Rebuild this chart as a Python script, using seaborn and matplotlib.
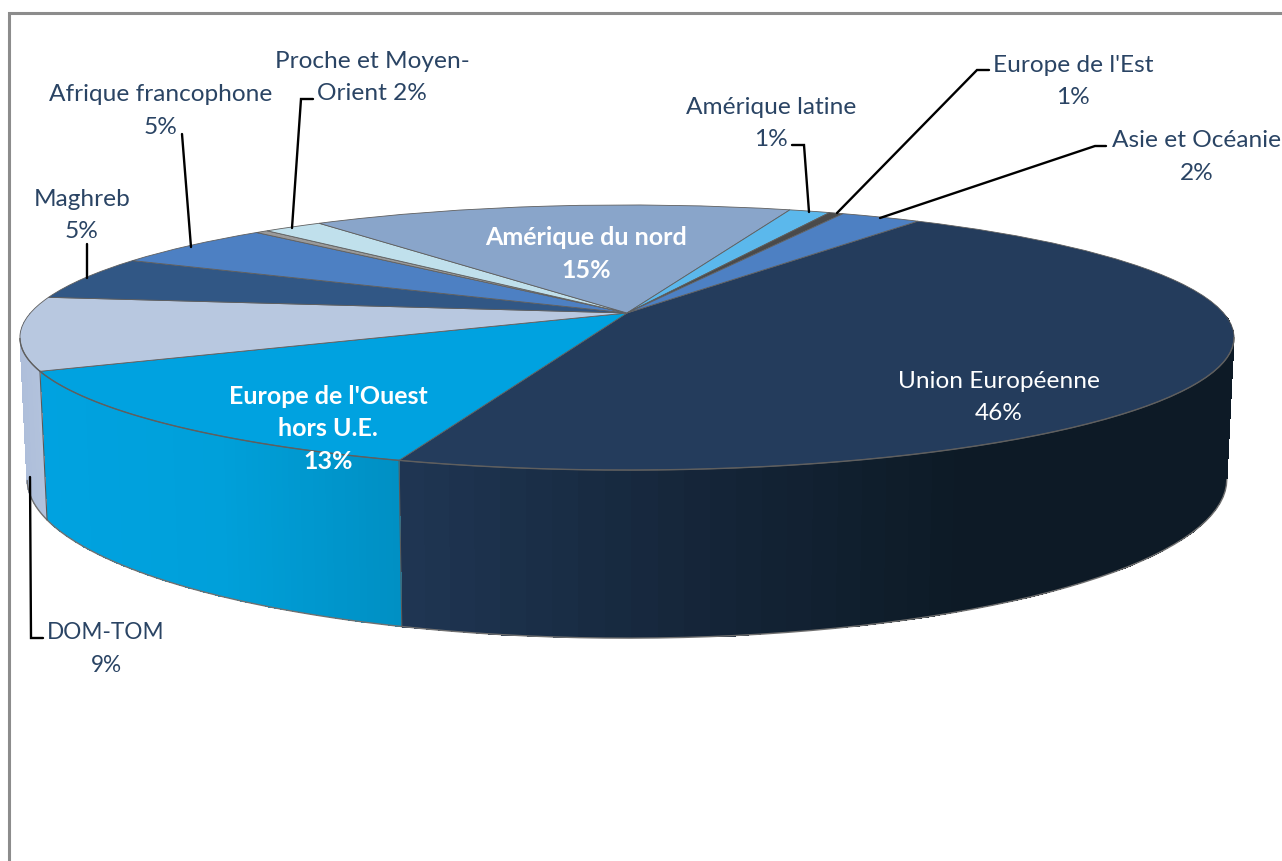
import numpy as np
import matplotlib
matplotlib.use('Agg')
import matplotlib.pyplot as plt
from matplotlib.colors import Normalize
from matplotlib.transforms import Transform
import seaborn as sns

# parts clockwise, starting with Union Européenne (unnamed grey sliver included)
regions = ['Union Européenne', "Europe de l'Ouest hors U.E.", 'DOM-TOM', 'Maghreb',
           'Afrique francophone', '', 'Proche et Moyen-Orient', 'Amérique du nord',
           'Amérique latine', "Europe de l'Est", 'Asie et Océanie']
shares = [45.6, 13.0, 8.9, 5.3, 5.3, 0.4, 1.9, 15.3, 1.3, 0.45, 2.55]
colors = ['#243c5c', '#00a2e0', '#b8c8e0', '#315785', '#4d80c3', '#9a9a9a',
          '#c0e0ec', '#89a5ca', '#5bb8ec', '#4a4a4a', '#4d80c3']

# side wall colours, left to right, only for the parts seen from the front
wall_colors = {0: ['#1f3552', '#15263a', '#0d1a26', '#0d1a26'],
               1: ['#00a2e0', '#00a0da', '#0090c4'],
               2: ['#aebeda', '#b2c2dc']}

label_lines = [['Union Européenne', '46%'], ["Europe de l'Ouest", 'hors U.E.', '13%'], ['DOM-TOM', '9%'],
               ['Maghreb', '5%'], ['Afrique francophone', '5%'], ['Proche et Moyen-', 'Orient 2%'],
               ['Amérique du nord', '15%'], ['Amérique latine', '1%'], ["Europe de l'Est", '1%'],
               ['Asie et Océanie', '2%']]
label_xy = [(999, 379), (328, 395), (106, 630), (82, 197), (161, 92), (372, 59),
            (586, 236), (771, 105), (1073, 63), (1197, 138)]
label_size = [17.6, 18, 16.3, 17.6, 17.6, 17.6, 18, 17.6, 17.6, 17.6]
label_white = [True, True, False, False, False, False, True, False, False, False]
label_bold = [False, True, False, False, False, False, True, False, False, False]

leaders = [[(87, 244), (87, 278)],
           [(182, 134), (191, 247)],
           [(313, 99), (301, 99), (292, 228)],
           [(792, 145), (804, 145), (809, 212)],
           [(989, 70), (977, 70), (837, 213)],
           [(1106, 146), (1095, 146), (880, 218)],
           [(43, 638), (31, 638), (30, 477)]]

CX, CY = 627, 313     # pie centre in pixels
A, B = 596.6, 128     # radii of the tilted disc
K = 0.185             # perspective strength
WALL = 137            # wall height
SHRINK = 0.988        # lower rim is a bit narrower
LINE_STEP = 32.5      # distance between label lines


class Tilt(Transform):
    # maps the unit circle of the pie onto the tilted disc, in pixel coordinates
    input_dims = 2
    output_dims = 2

    def __init__(self, drop=0, scale=1.0):
        super().__init__()
        self.drop = drop
        self.scale = scale

    def transform_non_affine(self, values):
        u, v = values[:, 0], values[:, 1]
        w = 1 + K * v
        return np.column_stack([CX + self.scale * A * u / w, CY - (B * v - self.drop) / w])


sns.set_style('white')
plt.rcParams['font.family'] = ['Lato', 'DejaVu Sans']

fig = plt.figure(figsize=(12.82, 8.61), dpi=100)
ax = fig.add_axes([0, 0, 1, 1])

wedges, _ = ax.pie(shares, colors=colors, startangle=55.8, counterclock=False, radius=1,
                   wedgeprops={'edgecolor': '#5f5f5f', 'linewidth': 0.6, 'zorder': 3})
ax.set_aspect('auto')
ax.set_xlim(0, 1282)
ax.set_ylim(861, 0)
ax.axis('off')

top_rim = Tilt()
low_rim = Tilt(WALL, SHRINK)

for wedge in wedges:
    wedge.set_transform(top_rim + ax.transData)

for i, shades in wall_colors.items():
    t = np.radians(np.linspace(wedges[i].theta1, wedges[i].theta2, 80))
    t = t[np.sin(t) < 0]
    circle = np.column_stack([np.cos(t), np.sin(t)])
    upper = top_rim.transform_non_affine(circle)
    lower = low_rim.transform_non_affine(circle)
    X = np.vstack([upper[:, 0], lower[:, 0]])
    Y = np.vstack([upper[:, 1], lower[:, 1]])
    C = ((X[0, :-1] + X[0, 1:]) / 2).reshape(1, -1)
    ax.pcolormesh(X, Y, C, cmap=sns.blend_palette(shades, as_cmap=True),
                  norm=Normalize(C.min(), C.max()), shading='flat', zorder=2)
    # only the part of the lower rim below the widest point can be seen
    seen = np.sin(t) < -K
    ax.plot(lower[seen, 0], lower[seen, 1], color='#707070', lw=1, zorder=2.5)
    ax.plot(upper[seen, 0], upper[seen, 1], color='#5f5f5f', lw=1, zorder=3.5)

# seams between the front parts of the wall
for angle in [wedges[0].theta1, wedges[1].theta1]:
    point = np.array([[np.cos(np.radians(angle)), np.sin(np.radians(angle))]])
    upper = top_rim.transform_non_affine(point)[0]
    lower = low_rim.transform_non_affine(point)[0]
    ax.plot([upper[0], lower[0]], [upper[1], lower[1]], color='#5a5a5a', lw=0.8, zorder=2.5)

for pts in leaders:
    xs, ys = zip(*pts)
    ax.plot(xs, ys, color='black', lw=1.7, zorder=4, solid_joinstyle='miter')

for lines, xy, size, white, bold in zip(label_lines, label_xy, label_size, label_white, label_bold):
    for n, line in enumerate(lines):
        ax.text(xy[0], xy[1] + 9 + n * LINE_STEP, line, ha='center', va='baseline', fontsize=size,
                color='white' if white else '#2a4464', fontweight='bold' if bold else 'normal', zorder=5)

# frame of the chart area, its other two sides are cut off
ax.plot([9, 9, 1282], [861, 13, 13], color='#8c8c8c', lw=2.2, zorder=1, solid_joinstyle='miter')

plt.savefig('out.png', dpi=100)
